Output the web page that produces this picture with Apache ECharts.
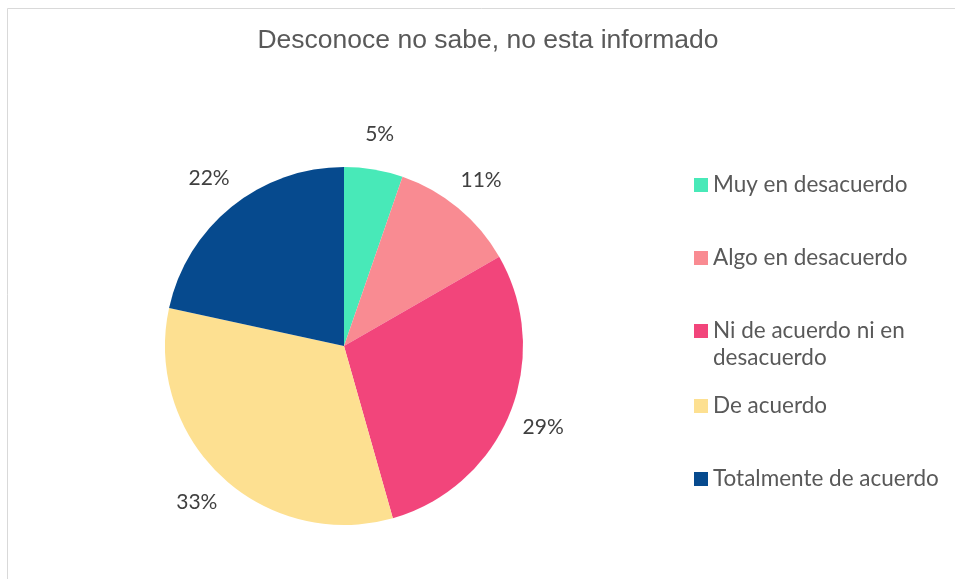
<!DOCTYPE html>
<html>
<head>
<meta charset="utf-8">
<script src="https://cdn.jsdelivr.net/npm/echarts@6/dist/echarts.min.js"></script>
<style>
  html, body { margin: 0; padding: 0; background: #ffffff; }
  #chart { width: 955px; height: 579px; }
</style>
</head>
<body>
<div id="chart"></div>
<script>
const chartTitle = 'Desconoce no sabe, no esta informado';
const categories = ['Muy en desacuerdo', 'Algo en desacuerdo', 'Ni de acuerdo ni en desacuerdo', 'De acuerdo', 'Totalmente de acuerdo'];
const values = [5.3, 11.4, 28.9, 32.8, 21.6];
const colors = ['#48e9b8', '#f98b92', '#f2457b', '#fde091', '#064a8e'];

const legendCenters = [185, 258, 331, 406, 479];

const pieData = categories.map((c, i) => ({ name: c, value: values[i], itemStyle: { color: colors[i] } }));
const labelData = categories.map((c, i) => ({ name: c, value: values[i] }));

const legends = categories.map((c, i) => {
  const twoLine = c === 'Ni de acuerdo ni en desacuerdo';
  return {
    data: [c],
    left: 694,
    top: twoLine ? legendCenters[i] - 40.5 : legendCenters[i] - 13.5,
    padding: 0,
    orient: 'vertical',
    itemWidth: 14,
    itemHeight: 14,
    icon: 'rect',
    selectedMode: false,
    formatter: twoLine ? (name) => '\n' + name : '{name}',
    textStyle: {
      fontFamily: 'Lato',
      fontSize: 22.5,
      color: '#595959',
      lineHeight: 27,
      width: 245,
      overflow: 'break'
    }
  };
});

const chart = echarts.init(document.getElementById('chart'), null, { renderer: 'canvas' });
chart.setOption({
  animation: false,
  backgroundColor: '#ffffff',
  color: colors,
  title: {
    text: chartTitle,
    left: 488,
    textAlign: 'center',
    top: 27,
    padding: 0,
    textStyle: { fontFamily: 'Liberation Sans', fontSize: 26.5, fontWeight: 'normal', color: '#595959' }
  },
  graphic: [{
    type: 'rect',
    silent: true,
    shape: { x: 7.5, y: 8.5, width: 1000, height: 1000 },
    style: { fill: 'none', stroke: '#d9d9d9', lineWidth: 1 }
  }],
  legend: legends,
  series: [
    {
      type: 'pie',
      center: [344, 346],
      radius: [0, 179],
      startAngle: 90,
      clockwise: true,
      silent: true,
      data: pieData,
      label: { show: false },
      labelLine: { show: false },
      itemStyle: { borderWidth: 0 }
    },
    {
      type: 'pie',
      center: [344, 346],
      radius: [0, 424],
      startAngle: 90,
      clockwise: true,
      silent: true,
      percentPrecision: 0,
      data: labelData,
      itemStyle: { color: 'rgba(0,0,0,0)', borderWidth: 0 },
      label: {
        show: true,
        position: 'inside',
        formatter: '{d}%',
        fontFamily: 'Lato',
        fontSize: 21,
        color: '#404040'
      },
      labelLine: { show: false }
    }
  ]
});
</script>
</body>
</html>
